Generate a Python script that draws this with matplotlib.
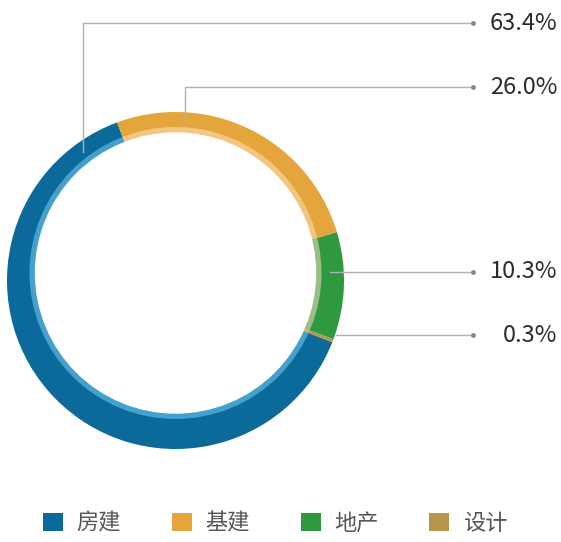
import matplotlib.pyplot as plt
from matplotlib.patches import Circle

plt.rcParams['font.family'] = ['Noto Sans CJK SC', 'DejaVu Sans']

# data
categories = ['房建', '基建', '地产', '设计']
shares = [63.4, 26.0, 10.3, 0.3]
pct_labels = ['63.4%', '26.0%', '10.3%', '0.3%']
colors = ['#0b6a9a', '#e4a63c', '#2f993f', '#b8954a']
light_colors = ['#44a0cc', '#f2c680', '#9dbd88', '#d8b56c']

W, H = 561, 542
fig = plt.figure(figsize=(W / 100, H / 100), dpi=100)
ax = fig.add_axes([0, 0, 1, 1])

# ring centres in pixel units (y flipped so it grows upward)
cx, cy_out, cy_in = 175.5, H - 280.5, H - 273
wedges, _ = ax.pie(shares, colors=colors, startangle=-21.5, counterclock=False,
                   radius=168.5, center=(cx, cy_out), frame=True,
                   wedgeprops=dict(linewidth=0))

# lighter inner band: same angles, clipped to a circle shifted upwards
light, _ = ax.pie(shares, colors=light_colors, startangle=-21.5, counterclock=False,
                  radius=160, center=(cx, cy_out), frame=True,
                  wedgeprops=dict(linewidth=0))
clip = Circle((cx, cy_in), 146, transform=ax.transData)
for w in light:
    w.set_clip_on(True)
    w.set_clip_path(clip)
ax.add_patch(Circle((cx, cy_in), 140, color='white', zorder=3))

ax.set_xlim(0, W)
ax.set_ylim(0, H)
ax.set_aspect('equal')
ax.axis('off')

# leader lines: (anchor x, anchor y, label y), pixel units from top
leaders = [(83, 152, 23), (185, 124, 87), (330, 272, 272), (336, 335, 335)]
x_dot = 473
for (ax_x, ax_y, ly), txt in zip(leaders, pct_labels):
    pts_x = [ax_x, ax_x, x_dot] if ax_y != ly else [ax_x, x_dot]
    pts_y = [ax_y, ly, ly] if ax_y != ly else [ly, ly]
    ax.plot(pts_x, [H - v for v in pts_y], color='#b0b0b0', lw=1, zorder=5)
    ax.plot(x_dot, H - ly, 'o', color='#8a8a8a', ms=2.5, zorder=6)
    ax.text(557, H - ly, txt, ha='right', va='center', fontsize=17,
            color='#2b2b2b', zorder=6)

ax.legend(wedges, categories, ncol=4, loc='center',
          bbox_to_anchor=(275 / W, 1 - 523 / H), frameon=False,
          fontsize=16, handlelength=0.9, handleheight=0.9,
          handletextpad=0.6, columnspacing=2.3, labelcolor='#555555')

fig.savefig('out.png', dpi=100)
